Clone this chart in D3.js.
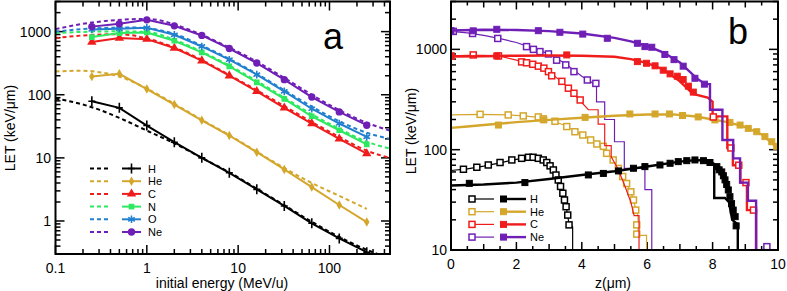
<!DOCTYPE html>
<html><head><meta charset="utf-8">
<script src="https://cdn.jsdelivr.net/npm/d3@7"></script>
<style>body{margin:0;background:#fff} svg{display:block} text{font-family:"Liberation Sans",Arial,sans-serif;fill:#000}</style>
</head><body><svg id="c" width="787" height="291"></svg>
<script>
// ---------------- Panel a data ----------------
const energies = [0.25,0.5,1,2,4,8,16,32,64,128,256];
const letH  = [78.7,62,32.5,17.7,10,5.8,3.17,1.73,0.92,0.53,0.32];
const letHe = [195,215,123,70,39.4,22.6,12.3,6.56,3.44,1.79,0.96];
const letC  = [683,789,760,549,346,200,113,62,35,20,11.7];
const letN  = [819,947,968,716,468,281,157,86,45.6,27.4,16.3];
const letO  = [1080,1110,1150,890,582,359,208,113,60,35,21.5];
const letNe = [1200,1330,1536,1236,870,540,318,173,92,53.5,32.9];
// model (dashed) curves: [energy, LET]
const modelH  = [[0.1,87],[0.2,70],[0.3,58],[0.5,43],[1,27],[2,17],[4,10],[8,5.9],[16,3.25],[32,1.78],[64,0.97],[128,0.56],[256,0.35],[380,0.28]];
const modelHe = [[0.1,234],[0.2,240],[0.3,228],[0.5,195],[1,125],[2,72],[4,40],[8,23],[16,12.5],[32,6.9],[64,4.0],[128,2.5],[256,1.55]];
const modelC  = [[0.1,790],[0.2,870],[0.5,910],[1,780],[2,560],[4,355],[8,205],[16,118],[32,66],[64,37],[128,21.5],[256,13],[460,10]];
const modelN  = [[0.1,947],[0.2,990],[0.5,1010],[1,990],[2,740],[4,480],[8,290],[16,165],[32,90],[64,49],[128,29],[256,18],[460,14]];
const modelO  = [[0.1,1000],[0.2,1100],[0.4,1150],[0.7,1160],[1,1130],[2,920],[4,600],[8,370],[16,215],[32,118],[64,65],[128,38],[256,25],[460,20]];
const modelNe = [[0.1,1095],[0.2,1330],[0.4,1500],[0.8,1580],[1.2,1560],[2,1300],[4,890],[8,560],[16,335],[32,185],[64,100],[128,57],[256,36],[460,27]];
const ionNames = ["H","He","C","N","O","Ne"];

// ---------------- Panel b data: [z (um), LET] ----------------
const lineHopen = [[0,62],[0.5,64.5],[1,68.5],[1.5,74],[2,80],[2.4,84],[2.7,83],[2.95,74],[3.15,60],[3.35,43],[3.5,30],[3.6,19],[3.72,17],[3.72,9]];
const sqHopen = [[0.38,63.8],[0.79,66.8],[1.14,70.4],[1.5,74.5],[1.86,79],[2.16,82],[2.37,84],[2.51,84],[2.67,82],[2.82,79],[2.93,74.5],[3.03,69],[3.13,62.8],[3.21,55.9],[3.28,49.9],[3.35,43],[3.42,36.8],[3.47,31.5],[3.52,27],[3.57,22.3],[3.61,17.8]];
const lineHfilled = [[0,44],[1,45],[2,47],[3,51],[4,56],[5,61],[6,68],[7,76],[7.5,79],[7.9,77],[8.05,72],[8.05,33],[8.38,33],[8.5,30],[8.6,20],[8.77,18],[8.77,9]];
const sqHfilled = [[0.56,46.2],[2.26,47],[4.2,56],[4.66,58],[5.12,61.4],[5.58,65.3],[5.93,67.8],[6.39,70.4],[6.7,73.2],[6.95,76],[7.21,77.7],[7.46,79],[7.72,77.7],[7.92,74.5],[8.13,67.8],[8.2,63],[8.28,60],[8.33,55],[8.38,50],[8.43,45],[8.48,39.7],[8.53,34],[8.58,29],[8.63,25],[8.69,21.5],[8.72,17.4]];
const lineHeopen = [[0,222],[0.9,225],[1.75,222],[2.2,217],[2.7,210],[3.2,190],[3.55,170],[3.8,151],[4.05,138],[4.3,124],[4.5,113],[4.7,102],[4.95,80],[5.15,63],[5.35,47],[5.5,38],[5.62,28],[5.72,22],[5.72,14],[5.98,14],[5.98,9]];
const sqHeopen = [[0.89,225],[1.75,222],[2.21,217],[2.67,212],[2.82,203],[3.18,192],[3.54,170],[3.79,151],[4.03,140],[4.27,125],[4.46,114],[4.66,108],[4.76,92],[4.96,79],[5.12,65],[5.25,54],[5.37,46],[5.5,38],[5.58,31.5],[5.65,25],[5.68,17.8],[5.68,14.4]];
const lineHefilled = [[0,165],[0.5,170],[1,176],[2,188],[3,198],[4,208],[5,218],[6,224],[6.8,225],[7.5,214],[8,200],[8.5,187],[9,168],[9.5,142],[10,103]];
const sqHefilled = [[1.45,176],[2.84,198],[4.1,210],[5.47,227],[6.24,227],[6.68,227],[7.08,219],[7.56,212],[8.07,198],[8.53,187],[8.84,176],[9.09,163],[9.35,151],[9.6,135],[9.81,120],[9.96,108]];
const lineCopen = [[0,860],[0.5,870],[1,870],[1.5,855],[2,780],[2.5,705],[3,600],[3.5,440],[3.9,320],[4.2,250],[4.5,250],[4.5,180],[4.7,180],[4.7,110],[4.9,110],[4.9,85],[5.1,65],[5.3,45],[5.5,30],[5.6,22],[5.75,22],[5.75,9]];
const sqCopen = [[0,860],[0.68,880],[1.45,860],[2.16,750],[2.31,735],[2.5,710],[2.67,680],[2.84,650],[2.98,600],[3.08,545],[3.39,480],[3.59,410],[3.76,365],[3.95,313]];
const lineCfilled = [[0,850],[1,855],[2,865],[3,870],[4,865],[5,845],[5.5,800],[6,730],[6.5,630],[7,480],[7.4,360],[7.85,330],[8.0,300],[8.0,215],[8.45,215],[8.45,104],[8.62,104],[8.62,70],[8.85,70],[8.85,47],[9.05,47],[9.05,25],[9.33,25],[9.33,9]];
const sqCfilled = [[0,850],[1.4,860],[3.54,880],[5.7,755],[5.98,727],[6.24,685],[6.49,620],[6.7,570],[6.92,540],[7.1,500],[7.26,430],[7.41,375]];
const tailCopen = [[8.02,212],[8.56,104],[8.8,70],[9.02,47],[9.25,25]];
const lineNeopen = [[0,1510],[0.5,1460],[1,1380],[1.5,1280],[2,1170],[2.5,1030],[3,900],[3.5,720],[4,540],[4.3,470],[4.45,420],[4.45,300],[4.7,300],[4.7,200],[5.0,200],[5.0,120],[5.3,120],[5.3,65],[5.93,65],[5.93,40],[6.14,40],[6.14,9]];
const sqNeopen = [[0.07,1510],[0.66,1440],[1.43,1285],[2.31,1065],[2.52,1000],[2.72,950],[2.98,900],[3.23,780],[3.51,700],[3.76,600],[4.17,495],[4.43,458]];
const lineNefilled = [[0,1540],[1,1570],[2,1560],[3,1520],[4,1440],[5,1300],[5.5,1200],[6,1080],[6.5,930],[7,740],[7.5,520],[7.77,450],[7.92,450],[7.92,250],[8.3,250],[8.3,125],[8.63,125],[8.63,82],[8.84,82],[8.84,47],[9.08,47],[9.08,31],[9.33,31],[9.33,9]];
const sqNefilled = [[0,1540],[0.68,1530],[1.4,1585],[2.67,1535],[3.33,1480],[4.03,1420],[4.78,1290],[5.7,1150],[5.93,1065],[6.14,1050],[6.54,890],[6.82,790],[7.1,680],[7.46,515],[7.75,450]];
const tailNeopen = [[9.66,10.8]];
const bNames = ["H","He","C","Ne"];

// ---------------- drawing ----------------
const svg = d3.select("#c");
const cH="#000000", cHe="#d4a72c", cC="#f01c1c", cN="#2ee860", cO="#2280cf", cNe="#6f1fb5";

const xa = d3.scaleLog().domain([0.1,460]).range([55.5,390]);
const ya = d3.scaleLog().domain([0.3,3000]).range([254,1.5]);
const xb = d3.scaleLinear().domain([0,10]).range([451,778]);
const yb = d3.scaleLog().domain([10,3000]).range([250,1.5]);

const defs = svg.append("defs");
defs.append("clipPath").attr("id","ca").append("rect").attr("x",55.5).attr("y",1.5).attr("width",390-55.5).attr("height",254-1.5);
defs.append("clipPath").attr("id","cb").append("rect").attr("x",451).attr("y",1.5).attr("width",778-451).attr("height",250-1.5);

function logTicks(lo, hi){
  const out=[];
  for(let e=Math.floor(Math.log10(lo))-1;e<=Math.ceil(Math.log10(hi));e++){
    for(let m=1;m<10;m++){const v=m*Math.pow(10,e); if(v>=lo*0.999 && v<=hi*1.001) out.push({v, major:m===1});}
  }
  return out;
}
function frame(x0,x1,y0,y1){
  svg.append("rect").attr("x",x0).attr("y",y0).attr("width",x1-x0).attr("height",y1-y0)
    .attr("fill","none").attr("stroke","#000").attr("stroke-width",2);
}
function ticksX(g, scale, list, y0, y1, majL, minL){
  list.forEach(t=>{const x=scale(t.v); const L=t.major?majL:minL;
    g.append("line").attr("x1",x).attr("x2",x).attr("y1",y1).attr("y2",y1-L).attr("stroke","#000").attr("stroke-width",1.5);
    g.append("line").attr("x1",x).attr("x2",x).attr("y1",y0).attr("y2",y0+L).attr("stroke","#000").attr("stroke-width",1.5);});
}
function ticksY(g, scale, list, x0, x1, majL, minL){
  list.forEach(t=>{const y=scale(t.v); const L=t.major?majL:minL;
    g.append("line").attr("y1",y).attr("y2",y).attr("x1",x0).attr("x2",x0+L).attr("stroke","#000").attr("stroke-width",1.5);
    g.append("line").attr("y1",y).attr("y2",y).attr("x1",x1).attr("x2",x1-L).attr("stroke","#000").attr("stroke-width",1.5);});
}

// ----- Panel a -----
const ga = svg.append("g");
ticksX(ga, xa, logTicks(0.1,460), 1.5, 254, 9, 5);
ticksY(ga, ya, logTicks(0.3,3000), 55.5, 390, 9, 5);
[["0.1",0.1],["1",1],["10",10],["100",100]].forEach(([s,v])=>{
  ga.append("text").attr("x",xa(v)).attr("y",273).attr("text-anchor","middle").attr("font-size",14).text(s);});
[["1000",1000],["100",100],["10",10],["1",1]].forEach(([s,v])=>{
  ga.append("text").attr("x",51).attr("y",ya(v)+5).attr("text-anchor","end").attr("font-size",14).text(s);});
ga.append("text").attr("x",222).attr("y",288).attr("text-anchor","middle").attr("font-size",14).text("initial energy (MeV/u)");
ga.append("text").attr("transform","translate(15,128) rotate(-90)").attr("text-anchor","middle").attr("font-size",14).text("LET (keV/μm)");
ga.append("text").attr("x",333).attr("y",49).attr("text-anchor","middle").attr("font-size",36).text("a");

const seriesA = [
  {name:"H", vals:letH, model:modelH, col:cH, sym:"plus"},
  {name:"He", vals:letHe, model:modelHe, col:cHe, sym:"diamond"},
  {name:"C", vals:letC, model:modelC, col:cC, sym:"triangle"},
  {name:"N", vals:letN, model:modelN, col:cN, sym:"square"},
  {name:"O", vals:letO, model:modelO, col:cO, sym:"x"},
  {name:"Ne", vals:letNe, model:modelNe, col:cNe, sym:"circle"}
];
function marker(g, sym, x, y, col){
  let s;
  if(sym==="plus") s = g.append("path").attr("d","M0,-5V5M-3.5,0H3.5").attr("stroke",col).attr("stroke-width",1.6).attr("fill","none");
  else if(sym==="x") s = g.append("path").attr("d",d3.symbol(d3.symbolAsterisk,40)()).attr("stroke",col).attr("stroke-width",1.6).attr("fill","none");
  else {
    const t = {diamond:d3.symbolDiamond, triangle:d3.symbolTriangle, square:d3.symbolSquare, circle:d3.symbolCircle}[sym];
    const sz = {diamond:26, triangle:38, square:32, circle:42}[sym];
    s = g.append("path").attr("d",d3.symbol(t,sz)()).attr("fill",col);
  }
  s.attr("transform",`translate(${x},${y})`);
}
const plotA = ga.append("g").attr("clip-path","url(#ca)");
const lineA = d3.line().x(d=>xa(d[0])).y(d=>ya(d[1])).curve(d3.curveMonotoneX);
const lineAs = d3.line().x(d=>xa(d[0])).y(d=>ya(d[1]));
seriesA.forEach(s=>{
  plotA.append("path").attr("d",lineA(s.model)).attr("fill","none").attr("stroke",s.col).attr("stroke-width",2).attr("stroke-dasharray","4,3");
});
seriesA.forEach(s=>{
  const pts = energies.map((e,i)=>[e,s.vals[i]]);
  plotA.append("path").attr("d",lineAs(pts)).attr("fill","none").attr("stroke",s.col).attr("stroke-width",2);
  pts.forEach(p=>marker(plotA, s.sym, xa(p[0]), ya(p[1]), s.col));
});
// legend a
const legA0 = 168.5, legAstep = 12.7;
seriesA.forEach((s,i)=>{
  const y = legA0 + i*legAstep;
  ga.append("line").attr("x1",90).attr("x2",110).attr("y1",y).attr("y2",y).attr("stroke",s.col).attr("stroke-width",2).attr("stroke-dasharray","4,3");
  ga.append("line").attr("x1",122).attr("x2",141).attr("y1",y).attr("y2",y).attr("stroke",s.col).attr("stroke-width",2);
  marker(ga, s.sym, 131.5, y, s.col);
  ga.append("text").attr("x",148).attr("y",y+4).attr("font-size",11).text(s.name);
});
frame(55.5,390,1.5,254);

// ----- Panel b -----
const gb = svg.append("g");
const xbt = d3.range(0,10.01,0.5).map(v=>({v, major: Math.abs(v%2)<1e-9}));
xbt.forEach(t=>{const x=xb(t.v); const L = t.major?8:(Math.abs(t.v%1)<1e-9?6:4);
  gb.append("line").attr("x1",x).attr("x2",x).attr("y1",250).attr("y2",250-L).attr("stroke","#000").attr("stroke-width",1.5);
  gb.append("line").attr("x1",x).attr("x2",x).attr("y1",1.5).attr("y2",1.5+L).attr("stroke","#000").attr("stroke-width",1.5);});
ticksY(gb, yb, logTicks(10,3000), 451, 778, 9, 5);
[0,2,4,6,8,10].forEach(v=>gb.append("text").attr("x",xb(v)).attr("y",269).attr("text-anchor","middle").attr("font-size",14).text(v));
[["1000",1000],["100",100],["10",10]].forEach(([s,v])=>{
  gb.append("text").attr("x",447).attr("y",yb(v)+5).attr("text-anchor","end").attr("font-size",14).text(s);});
gb.append("text").attr("x",613).attr("y",288).attr("text-anchor","middle").attr("font-size",14).text("z(μm)");
gb.append("text").attr("transform","translate(416,131) rotate(-90)").attr("text-anchor","middle").attr("font-size",14).text("LET (keV/μm)");
gb.append("text").attr("x",738).attr("y",44).attr("text-anchor","middle").attr("font-size",36).text("b");

const plotB = gb.append("g").attr("clip-path","url(#cb)");
const lineB = d3.line().x(d=>xb(d[0])).y(d=>yb(d[1]));
function sq(g, x, y, col, filled){
  g.append("rect").attr("x",x-3).attr("y",y-3).attr("width",6).attr("height",6)
    .attr("fill",filled?col:"#fff").attr("stroke",col).attr("stroke-width",filled?1:1.5);
}
const seriesB = [
  {name:"H", col:cH, open:[lineHopen,sqHopen], filled:[lineHfilled,sqHfilled]},
  {name:"He", col:cHe, open:[lineHeopen,sqHeopen], filled:[lineHefilled,sqHefilled]},
  {name:"C", col:cC, open:[lineCopen,sqCopen], filled:[lineCfilled,sqCfilled], tail:tailCopen},
  {name:"Ne", col:cNe, open:[lineNeopen,sqNeopen], filled:[lineNefilled,sqNefilled], tail:tailNeopen}
];
seriesB.forEach(s=>{
  plotB.append("path").attr("d",lineB(s.open[0])).attr("fill","none").attr("stroke",s.col).attr("stroke-width",1.2);
  s.open[1].forEach(p=>sq(plotB, xb(p[0]), yb(p[1]), s.col, false));
});
seriesB.forEach(s=>{
  plotB.append("path").attr("d",lineB(s.filled[0])).attr("fill","none").attr("stroke",s.col).attr("stroke-width",2.4);
  s.filled[1].forEach(p=>sq(plotB, xb(p[0]), yb(p[1]), s.col, true));
  if(s.tail) s.tail.forEach(p=>sq(plotB, xb(p[0]), yb(p[1]), s.col, false));
});
// legend b
const legB0 = 199, legBstep = 12.7;
seriesB.forEach((s,i)=>{
  const y = legB0 + i*legBstep;
  gb.append("line").attr("x1",472).attr("x2",494).attr("y1",y).attr("y2",y).attr("stroke",s.col).attr("stroke-width",1.2);
  sq(gb, 472, y, s.col, false);
  gb.append("line").attr("x1",503).attr("x2",526).attr("y1",y).attr("y2",y).attr("stroke",s.col).attr("stroke-width",2.4);
  sq(gb, 503.5, y, s.col, true);
  gb.append("text").attr("x",530).attr("y",y+4).attr("font-size",11).text(s.name);
});
frame(451,778,1.5,250);
</script></body></html>
